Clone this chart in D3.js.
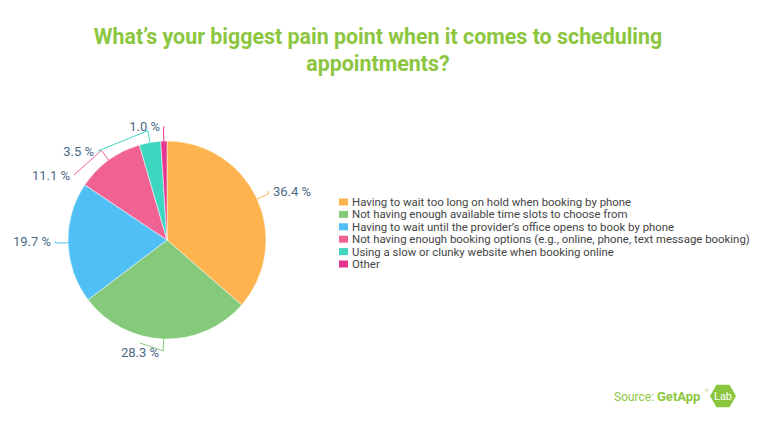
<!DOCTYPE html><html><head><meta charset="utf-8"><script src="https://cdn.jsdelivr.net/npm/d3@7"></script>
<style>body{margin:0;background:#fff}text{font-family:Roboto,"Noto Sans",sans-serif}</style></head><body>
<svg id="c" width="768" height="428"></svg>
<script>
const categories=["Having to wait too long on hold when booking by phone","Not having enough available time slots to choose from","Having to wait until the provider’s office opens to book by phone","Not having enough booking options (e.g., online, phone, text message booking)","Using a slow or clunky website when booking online","Other"];
const values=[36.4,28.3,19.7,11.1,3.5,1.0];
const colors=["#fdb44e","#85c97a","#4fbff5","#f06292","#3dd6c0","#e4368f"];
// label anchor points (layout, not data)
const labelPos=[[273,196,"start"],[140,357,"middle"],[51,246,"end"],[70,180,"end"],[94,156,"end"],[160,131,"end"]];
const svg=d3.select("#c");
svg.append("text").attr("x",378).attr("y",44).attr("text-anchor","middle").attr("fill","#8cc63f").attr("font-size",21.4).attr("font-weight","bold").text("What’s your biggest pain point when it comes to scheduling");
svg.append("text").attr("x",378).attr("y",71).attr("text-anchor","middle").attr("fill","#8cc63f").attr("font-size",21.4).attr("font-weight","bold").text("appointments?");
const cx=167,cy=240,r=99;
const pie=d3.pie().sort(null).value(d=>d)(values);
const arc=d3.arc().innerRadius(0).outerRadius(r);
const g=svg.append("g").attr("transform",`translate(${cx},${cy})`);
g.selectAll("path").data(pie).join("path").attr("d",arc).attr("fill",(d,i)=>colors[i]).attr("stroke","#fff").attr("stroke-width",0.5);
pie.forEach((d,i)=>{
 const a=(d.startAngle+d.endAngle)/2;
 const p0=[cx+r*Math.sin(a),cy-r*Math.cos(a)];
 const p1=[cx+(r+12)*Math.sin(a),cy-(r+12)*Math.cos(a)];
 const [lx,ly,anc]=labelPos[i];
 const ex=anc==="start"?lx-4:anc==="end"?lx+4:lx;
 const ey=anc==="middle"?ly-14:ly-5;
 svg.append("polyline").attr("points",[p0,p1,[ex,ey]].map(p=>p.join(",")).join(" ")).attr("fill","none").attr("stroke",colors[i]).attr("stroke-width",1);
 svg.append("text").attr("x",lx).attr("y",ly).attr("text-anchor",anc).attr("fill","#4a6a85").attr("font-size",13).text(values[i].toFixed(1)+" %");
});
const lg=svg.append("g");
categories.forEach((c,i)=>{
 const y=206+i*12.4;
 lg.append("rect").attr("x",339).attr("y",y-7.5).attr("width",9).attr("height",7).attr("fill",colors[i]);
 lg.append("text").attr("x",352).attr("y",y).attr("font-size",11.4).attr("fill","#444").text(c);
});
svg.append("text").attr("x",614).attr("y",401).attr("font-size",12).attr("fill","#8cc63f").text("Source:");
svg.append("text").attr("x",657).attr("y",401).attr("font-size",13).attr("font-weight","bold").attr("fill","#8cc63f").text("GetApp");
svg.append("text").attr("x",705).attr("y",392).attr("font-size",4).attr("fill","#8cc63f").text("®");
const hx=723,hy=396,hr=13;
svg.append("polygon").attr("points",d3.range(6).map(k=>{const t=Math.PI/3*k;return [hx+hr*Math.cos(t),hy+hr*Math.sin(t)].join(",")}).join(" ")).attr("fill","#8cc63f");
svg.append("text").attr("x",hx).attr("y",hy+4).attr("text-anchor","middle").attr("font-size",11).attr("fill","#fff").text("Lab");
</script></body></html>
